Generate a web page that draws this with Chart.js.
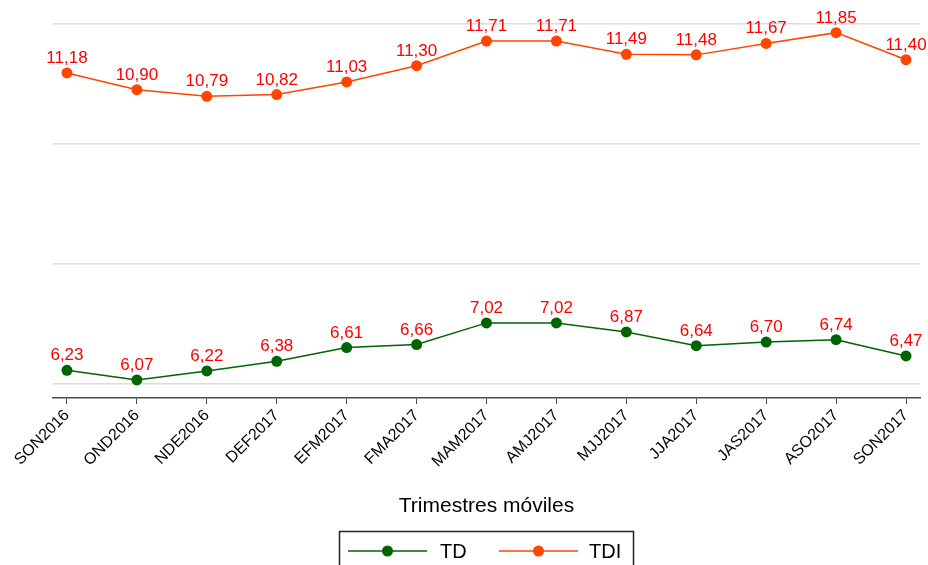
<!DOCTYPE html>
<html>
<head>
<meta charset="utf-8">
<script src="https://cdn.jsdelivr.net/npm/chart.js@4"></script>
<style>
html,body{margin:0;padding:0;background:#fff;}
canvas{display:block;}
</style>
</head>
<body>
<canvas id="c" width="928" height="565"></canvas>
<script>
const categories = ["SON2016","OND2016","NDE2016","DEF2017","EFM2017","FMA2017","MAM2017","AMJ2017","MJJ2017","JJA2017","JAS2017","ASO2017","SON2017"];
const tdValues  = [6.23, 6.07, 6.22, 6.38, 6.61, 6.66, 7.02, 7.02, 6.87, 6.64, 6.70, 6.74, 6.47];
const tdiValues = [11.18, 10.90, 10.79, 10.82, 11.03, 11.30, 11.71, 11.71, 11.49, 11.48, 11.67, 11.85, 11.40];
const yGridValues = [6, 8, 10, 12];
const seriesNames = ["TD", "TDI"];
const xTitle = "Trimestres móviles";

const FONT = "'Liberation Sans', Arial, sans-serif";
const GREEN = "#006400";
const ORANGE = "#ff4500";

const labelPlugin = {
  id: 'valueLabels',
  afterDatasetsDraw(chart) {
    const ctx = chart.ctx;
    ctx.save();
    ctx.font = "17px " + FONT;
    ctx.fillStyle = "#ff0000";
    ctx.textAlign = "center";
    ctx.textBaseline = "alphabetic";
    chart.data.datasets.forEach((ds, di) => {
      const meta = chart.getDatasetMeta(di);
      meta.data.forEach((pt, i) => {
        const v = ds.data[i].y;
        ctx.fillText(v.toFixed(2).replace('.', ','), pt.x, pt.y - 10);
      });
    });
    ctx.restore();
  }
};

const legendPlugin = {
  id: 'boxLegend',
  afterDraw(chart) {
    const ctx = chart.ctx;
    ctx.save();
    ctx.strokeStyle = "#222";
    ctx.lineWidth = 1.5;
    ctx.strokeRect(339.5, 531.5, 294, 50);
    const items = [
      {name: seriesNames[0], color: GREEN, x0: 348, x1: 427, tx: 440},
      {name: seriesNames[1], color: ORANGE, x0: 499, x1: 578, tx: 589}
    ];
    const y = 551;
    items.forEach(it => {
      ctx.strokeStyle = it.color;
      ctx.lineWidth = 1.5;
      ctx.beginPath();
      ctx.moveTo(it.x0, y);
      ctx.lineTo(it.x1, y);
      ctx.stroke();
      ctx.fillStyle = it.color;
      ctx.beginPath();
      ctx.arc((it.x0 + it.x1) / 2, y, 5.5, 0, Math.PI * 2);
      ctx.fill();
      ctx.fillStyle = "#000";
      ctx.font = "20px " + FONT;
      ctx.textAlign = "left";
      ctx.textBaseline = "middle";
      ctx.fillText(it.name, it.tx, y + 1);
    });
    ctx.restore();
  }
};

const toPts = arr => arr.map((v, i) => ({x: i, y: v}));

new Chart(document.getElementById('c'), {
  type: 'line',
  data: {
    datasets: [
      {label: seriesNames[0], data: toPts(tdValues), borderColor: GREEN, backgroundColor: GREEN,
       borderWidth: 1.5, pointRadius: 5.5, pointHoverRadius: 5.5, pointBorderWidth: 0, tension: 0},
      {label: seriesNames[1], data: toPts(tdiValues), borderColor: ORANGE, backgroundColor: ORANGE,
       borderWidth: 1.5, pointRadius: 5.5, pointHoverRadius: 5.5, pointBorderWidth: 0, tension: 0}
    ]
  },
  options: {
    responsive: false,
    animation: false,
    events: [],
    layout: {padding: {top: 8, left: 53, right: 8, bottom: 0}},
    plugins: {legend: {display: false}, tooltip: {enabled: false}},
    scales: {
      x: {
        type: 'linear',
        min: -0.2,
        max: 12.2,
        afterBuildTicks: s => { s.ticks = categories.map((_, i) => ({value: i})); },
        afterFit: s => { s.height = 167; },
        ticks: {
          autoSkip: false,
          maxRotation: 45,
          minRotation: 45,
          padding: 2,
          color: "#000",
          font: {family: FONT, size: 16},
          callback: v => categories[v]
        },
        grid: {display: true, drawOnChartArea: false, drawTicks: true, tickLength: 6, color: "#4d4d4d", lineWidth: 1},
        border: {display: true, color: "#4d4d4d", width: 1.5},
        title: {display: true, text: xTitle, color: "#000", font: {family: FONT, size: 21}, padding: {top: 0, bottom: 46}}
      },
      y: {
        min: 5.77,
        max: 12.26,
        afterBuildTicks: s => { s.ticks = yGridValues.map(v => ({value: v})); },
        afterFit: s => { s.width = 0; },
        ticks: {display: false},
        grid: {color: "#dcdcdc", lineWidth: 1.5, drawTicks: false},
        border: {display: false}
      }
    }
  },
  plugins: [labelPlugin, legendPlugin]
});
</script>
</body>
</html>
